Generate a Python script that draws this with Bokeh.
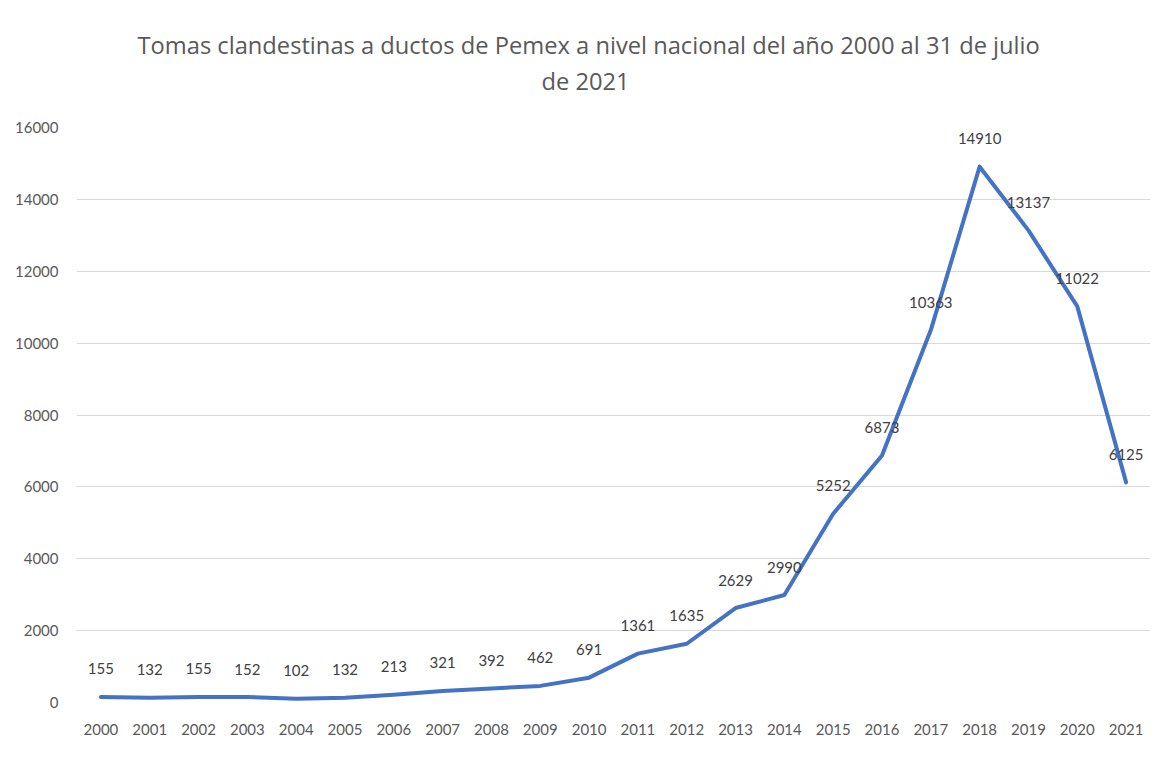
from bokeh.plotting import figure
from bokeh.models import FactorRange, ColumnDataSource, LabelSet, Title, Range1d, FixedTicker
from bokeh.core.properties import value
from bokeh.embed import file_html
from bokeh.resources import INLINE

years = [str(y) for y in range(2000, 2022)]
tomas = [155, 132, 155, 152, 102, 132, 213, 321, 392, 462, 691, 1361, 1635,
         2629, 2990, 5252, 6873, 10363, 14910, 13137, 11022, 6125]
y_ticks = [0, 2000, 4000, 6000, 8000, 10000, 12000, 14000, 16000]
title_lines = ["Tomas clandestinas a ductos de Pemex a nivel nacional del año 2000 al 31 de julio",
               "de 2021"]

FONT = "Lato"
TITLE_FONT = "Open Sans"

src = ColumnDataSource(dict(year=years, value=tomas, label=[str(v) for v in tomas]))

p = figure(width=1156, height=742, output_backend="svg", toolbar_location=None,
           x_range=FactorRange(*years, range_padding=0), y_range=Range1d(0, 16000),
           min_border_left=76, min_border_right=6, min_border_top=127, min_border_bottom=40)

p.outline_line_color = None
p.background_fill_color = "white"
p.border_fill_color = "white"

p.line("year", "value", source=src, line_color="#4472C4", line_width=4,
       line_join="round", line_cap="round")

labels = LabelSet(x="year", y="value", text="label", source=src, y_offset=28,
                  text_align="center", text_baseline="middle",
                  text_font=value(FONT), text_font_size="15px", text_color="#404040")
p.add_layout(labels)

p.yaxis.ticker = FixedTicker(ticks=y_ticks)
p.ygrid.grid_line_color = "#d9d9d9"
p.ygrid.grid_line_width = 1
p.xgrid.grid_line_color = None

for ax in (p.xaxis, p.yaxis):
    ax.axis_line_color = None
    ax.major_tick_line_color = None
    ax.minor_tick_line_color = None
    ax.major_label_text_font = FONT
    ax.major_label_text_font_size = "15px"
    ax.major_label_text_color = "#595959"
p.yaxis.major_label_standoff = 12
p.xaxis.major_label_standoff = 15

# second line first: it sits closest to the plot
p.add_layout(Title(text=title_lines[1], align="left", offset=465, standoff=61,
                   text_font=TITLE_FONT, text_font_size="23.7px", text_font_style="normal",
                   text_color="#595959"), "above")
p.add_layout(Title(text=title_lines[0], align="left", offset=61, standoff=-56,
                   text_font=TITLE_FONT, text_font_size="23.7px", text_font_style="normal",
                   text_color="#595959"), "above")

open("out.html", "w").write(file_html(p, INLINE))
